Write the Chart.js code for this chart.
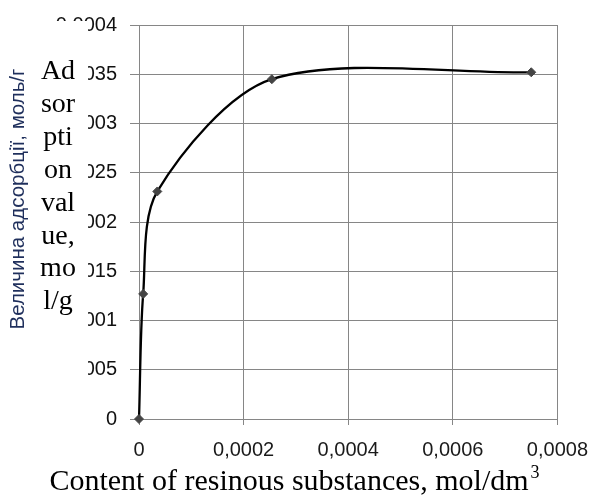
<!DOCTYPE html>
<html>
<head>
<meta charset="utf-8">
<script src="https://cdn.jsdelivr.net/npm/chart.js@4.4.0/dist/chart.umd.min.js"></script>
<style>
  html, body { margin: 0; padding: 0; background: #fff; }
  #wrap { width: 601px; height: 501px; }
</style>
</head>
<body>
<div id="wrap"><canvas id="c" width="601" height="501"></canvas></div>
<script>
// ---- data ----
const xValues = [0, 0.000008, 0.000035, 0.000254, 0.00075];
const yValues = [0, 0.000127, 0.000231, 0.000345, 0.000352];

const xTickValues = [0, 0.0002, 0.0004, 0.0006, 0.0008];
const xTickLabels = ['0', '0,0002', '0,0004', '0,0006', '0,0008'];
const yTickValues = [0, 0.00005, 0.0001, 0.00015, 0.0002, 0.00025, 0.0003, 0.00035, 0.0004];
const yTickLabels = ['0', '0,00005', '0,0001', '0,00015', '0,0002', '0,00025', '0,0003', '0,00035', '0,0004'];

const yTitleUk = 'Величина адсорбції, моль/г';
const yTitleEnLines = ['Ad', 'sor', 'pti', 'on', 'val', 'ue,', 'mo', 'l/g'];
const xTitle = 'Content of resinous substances, mol/dm';
const xTitleSup = '3';

const points = xValues.map((x, i) => ({ x: x, y: yValues[i] }));
const gridColor = '#868686';

const overlayPlugin = {
  id: 'overlay',
  afterDraw(chart) {
    const ctx = chart.ctx;
    ctx.save();
    // rotated Ukrainian title
    ctx.save();
    ctx.translate(18, 199);
    ctx.rotate(-Math.PI / 2);
    ctx.font = '20.5px "Liberation Sans", Arial, sans-serif';
    ctx.fillStyle = '#1f2f5c';
    ctx.textAlign = 'center';
    ctx.textBaseline = 'middle';
    ctx.fillText(yTitleUk, 0, 0);
    ctx.restore();

    // white text box overlapping the tick labels
    ctx.fillStyle = '#ffffff';
    ctx.fillRect(34, 21, 54, 375);
    ctx.fillStyle = '#000000';
    ctx.font = '28px "Liberation Serif", "Times New Roman", serif';
    ctx.textAlign = 'center';
    ctx.textBaseline = 'alphabetic';
    yTitleEnLines.forEach((t, i) => {
      ctx.fillText(t, 58, 79 + i * 32.9);
    });

    // x-axis title with superscript
    ctx.font = '30px "Liberation Serif", "Times New Roman", serif';
    ctx.textAlign = 'left';
    const w = ctx.measureText(xTitle).width;
    const x0 = 289 - w / 2;
    ctx.fillText(xTitle, x0, 490);
    ctx.font = '18px "Liberation Serif", "Times New Roman", serif';
    ctx.fillText(xTitleSup, x0 + w + 2, 478);
    ctx.restore();
  }
};

new Chart(document.getElementById('c'), {
  type: 'scatter',
  data: {
    datasets: [{
      data: points,
      showLine: true,
      clip: false,
      borderColor: '#000000',
      borderWidth: 2.3,
      tension: 0.3,
      pointStyle: 'rectRot',
      pointRadius: 4.5,
      pointBackgroundColor: '#444444',
      pointBorderColor: '#444444',
      pointBorderWidth: 1
    }]
  },
  options: {
    responsive: false,
    animation: false,
    devicePixelRatio: 1,
    layout: { padding: { top: 25, right: 43, left: 0, bottom: 0 } },
    plugins: { legend: { display: false }, tooltip: { enabled: false } },
    scales: {
      x: {
        type: 'linear',
        min: 0, max: 0.0008,
        afterFit: (s) => { s.height = 82; },
        afterBuildTicks: (s) => { s.ticks = xTickValues.map(v => ({ value: v })); },
        ticks: {
          callback: (v, i) => xTickLabels[i],
          font: { size: 20, family: '"Liberation Sans", Arial, sans-serif' },
          color: '#1a1a1a',
          padding: 13,
          maxRotation: 0
        },
        grid: { color: gridColor, lineWidth: 1, tickLength: 6 },
        border: { color: gridColor, width: 1 }
      },
      y: {
        type: 'linear',
        min: 0, max: 0.0004,
        afterFit: (s) => { s.width = 139; },
        afterBuildTicks: (s) => { s.ticks = yTickValues.map(v => ({ value: v })); },
        ticks: {
          callback: (v, i) => yTickLabels[i],
          font: { size: 20, family: '"Liberation Sans", Arial, sans-serif' },
          color: '#111111',
          padding: 13
        },
        grid: { color: gridColor, lineWidth: 1, tickLength: 9 },
        border: { color: gridColor, width: 1 }
      }
    }
  },
  plugins: [overlayPlugin]
});
</script>
</body>
</html>
